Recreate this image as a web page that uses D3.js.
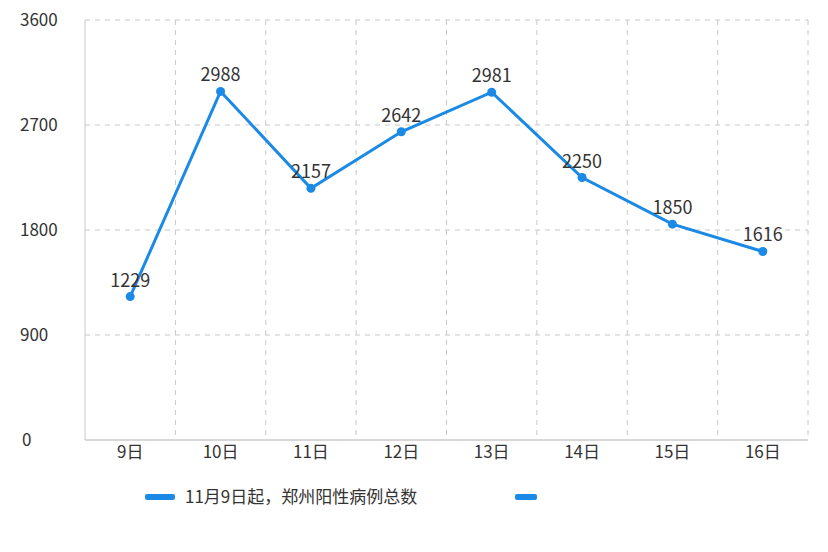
<!DOCTYPE html>
<html lang="zh">
<head>
<meta charset="utf-8">
<script src="https://d3js.org/d3.v7.min.js"></script>
<style>
  body { margin: 0; background: #fff; }
  text { font-family: "Noto Sans CJK SC", "Noto Sans", sans-serif; }
</style>
</head>
<body>
<svg id="chart" width="828" height="552"></svg>
<script>
const days = ["9日", "10日", "11日", "12日", "13日", "14日", "15日", "16日"];
const cases = [1229, 2988, 2157, 2642, 2981, 2250, 1850, 1616];
const yTicks = [0, 900, 1800, 2700, 3600];
const legendLabel = "11月9日起，郑州阳性病例总数";

const color = "#1a8ae6";
const svg = d3.select("#chart");
const mLeft = 85, mRight = 808, mTop = 20, mBottom = 440;

const x = d3.scaleBand().domain(days).range([mLeft, mRight]);
const y = d3.scaleLinear().domain([0, 3600]).range([mBottom, mTop]);

// horizontal grid
svg.append("g").selectAll("line").data(yTicks.filter(d => d > 0)).join("line")
    .attr("x1", mLeft).attr("x2", mRight)
    .attr("y1", d => y(d)).attr("y2", d => y(d))
    .attr("stroke", "#c8c8c8").attr("stroke-dasharray", "5,5");

// vertical grid at band boundaries
const bounds = days.map(d => x(d)).concat([mRight]);
svg.append("g").selectAll("line").data(bounds.slice(1)).join("line")
    .attr("x1", d => d).attr("x2", d => d)
    .attr("y1", mTop).attr("y2", mBottom)
    .attr("stroke", "#c8c8c8").attr("stroke-dasharray", "5,5");

// axis lines
svg.append("line").attr("x1", mLeft).attr("x2", mLeft).attr("y1", mTop).attr("y2", mBottom)
    .attr("stroke", "#c8c8c8");
svg.append("line").attr("x1", mLeft).attr("x2", mRight).attr("y1", mBottom).attr("y2", mBottom)
    .attr("stroke", "#b0b0b0");

// y labels
svg.append("g").selectAll("text").data(yTicks).join("text")
    .attr("x", d => d === 0 ? 22 : 20).attr("y", d => y(d) + 6)
    .attr("font-size", 17).attr("fill", "#333")
    .text(d => d);

// x labels
svg.append("g").selectAll("text").data(days).join("text")
    .attr("x", d => x(d) + x.bandwidth() / 2).attr("y", 458)
    .attr("text-anchor", "middle").attr("font-size", 17).attr("fill", "#333")
    .text(d => d);

const cx = d => x(d) + x.bandwidth() / 2;
const line = d3.line().x((d, i) => cx(days[i])).y(d => y(d));
svg.append("path").datum(cases).attr("d", line)
    .attr("fill", "none").attr("stroke", color).attr("stroke-width", 3);

svg.append("g").selectAll("circle").data(cases).join("circle")
    .attr("cx", (d, i) => cx(days[i])).attr("cy", d => y(d)).attr("r", 4.5)
    .attr("fill", color);

svg.append("g").selectAll("text").data(cases).join("text")
    .attr("x", (d, i) => cx(days[i])).attr("y", d => y(d) - 10)
    .attr("text-anchor", "middle").attr("font-size", 18).attr("fill", "#333")
    .text(d => d);

// legend
svg.append("rect").attr("x", 145).attr("y", 494).attr("width", 30).attr("height", 6)
    .attr("rx", 2).attr("fill", color);
svg.append("text").attr("x", 185).attr("y", 503).attr("font-size", 17).attr("fill", "#333")
    .text(legendLabel);
svg.append("rect").attr("x", 515).attr("y", 494).attr("width", 22).attr("height", 6)
    .attr("rx", 2).attr("fill", color);
</script>
</body>
</html>
